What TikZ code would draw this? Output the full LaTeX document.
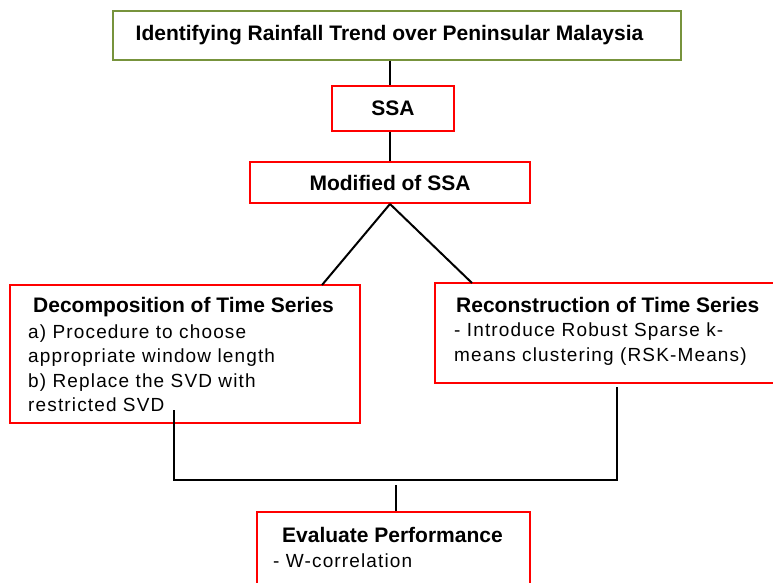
\documentclass[tikz,border=0pt]{standalone}
\usepackage{fontspec}
\setmainfont{Liberation Sans}
\newfontfamily\bodyfont{Liberation Sans}[LetterSpace=6]
\definecolor{olivegreen}{HTML}{77933C}
\begin{document}
\begin{tikzpicture}[x=1pt,y=-1pt,
  redbox/.style={draw=red,line width=2pt,inner sep=0pt,fill=white},
  greenbox/.style={draw=olivegreen,line width=2pt,inner sep=0pt,fill=white},
  conn/.style={draw=black,line width=2pt},
  hd/.style={font=\fontsize{21}{24}\selectfont\bfseries,anchor=base west,inner sep=0pt},
  bd/.style={font=\bodyfont\fontsize{19}{24}\selectfont,anchor=base west,inner sep=0pt}]
\clip (0,0) rectangle (773,583);
\fill[white] (0,0) rectangle (773,583);
% boxes
\node[greenbox,minimum width=568pt,minimum height=49pt] (top) at (397,35.5) {};
\node[redbox,minimum width=122pt,minimum height=45pt,font=\fontsize{21}{24}\selectfont\bfseries] (ssa) at (393,108.5) {SSA};
\node[redbox,minimum width=280pt,minimum height=41pt,font=\fontsize{21}{24}\selectfont\bfseries] (mod) at (390,182.5) {Modified of SSA};
\node[redbox,minimum width=350pt,minimum height=138pt] (dec) at (185,354) {};
\node[redbox,minimum width=355pt,minimum height=100pt] (rec) at (612.5,333) {};
\node[redbox,minimum width=273pt,minimum height=88pt] (ev) at (393.5,556) {};
% texts
\node[hd,anchor=base] (toptext) at (389.5,41) {Identifying Rainfall Trend over Peninsular Malaysia};
\node[hd] (dech) at (33,312) {Decomposition of Time Series};
\node[bd] (dec1) at (28,338) {a) Procedure to choose};
\node[bd] (dec2) at (28,362.5) {appropriate window length};
\node[bd] (dec3) at (28,387) {b) Replace the SVD with};
\node[bd] (dec4) at (28,411) {restricted SVD};
\node[hd] (rech) at (456,312) {Reconstruction of Time Series};
\node[bd] (rec1) at (454,336) {- Introduce Robust Sparse k-};
\node[bd] (rec2) at (454,361.5) {means clustering (RSK-Means)};
\node[hd] (evh) at (282,542) {Evaluate Performance};
\node[bd] (ev1) at (273,567) {- W-correlation};
% connectors
\coordinate (decIn) at (322,285);
\coordinate (recIn) at (472,283);
\coordinate (decOut) at (174,410);
\coordinate (recOut) at (617,387);
\coordinate (evIn) at (396,485);
\draw[conn] (top.south -| mod.north) -- (ssa.north -| mod.north);
\draw[conn] (ssa.south -| mod.north) -- (mod.north);
\draw[conn] (mod.south) -- (decIn);
\draw[conn] (mod.south) -- (recIn);
\draw[conn] (decOut) -- ++(0,70) -| (recOut);
\draw[conn] (evIn) -- (evIn |- ev.north);
\end{tikzpicture}
\end{document}
